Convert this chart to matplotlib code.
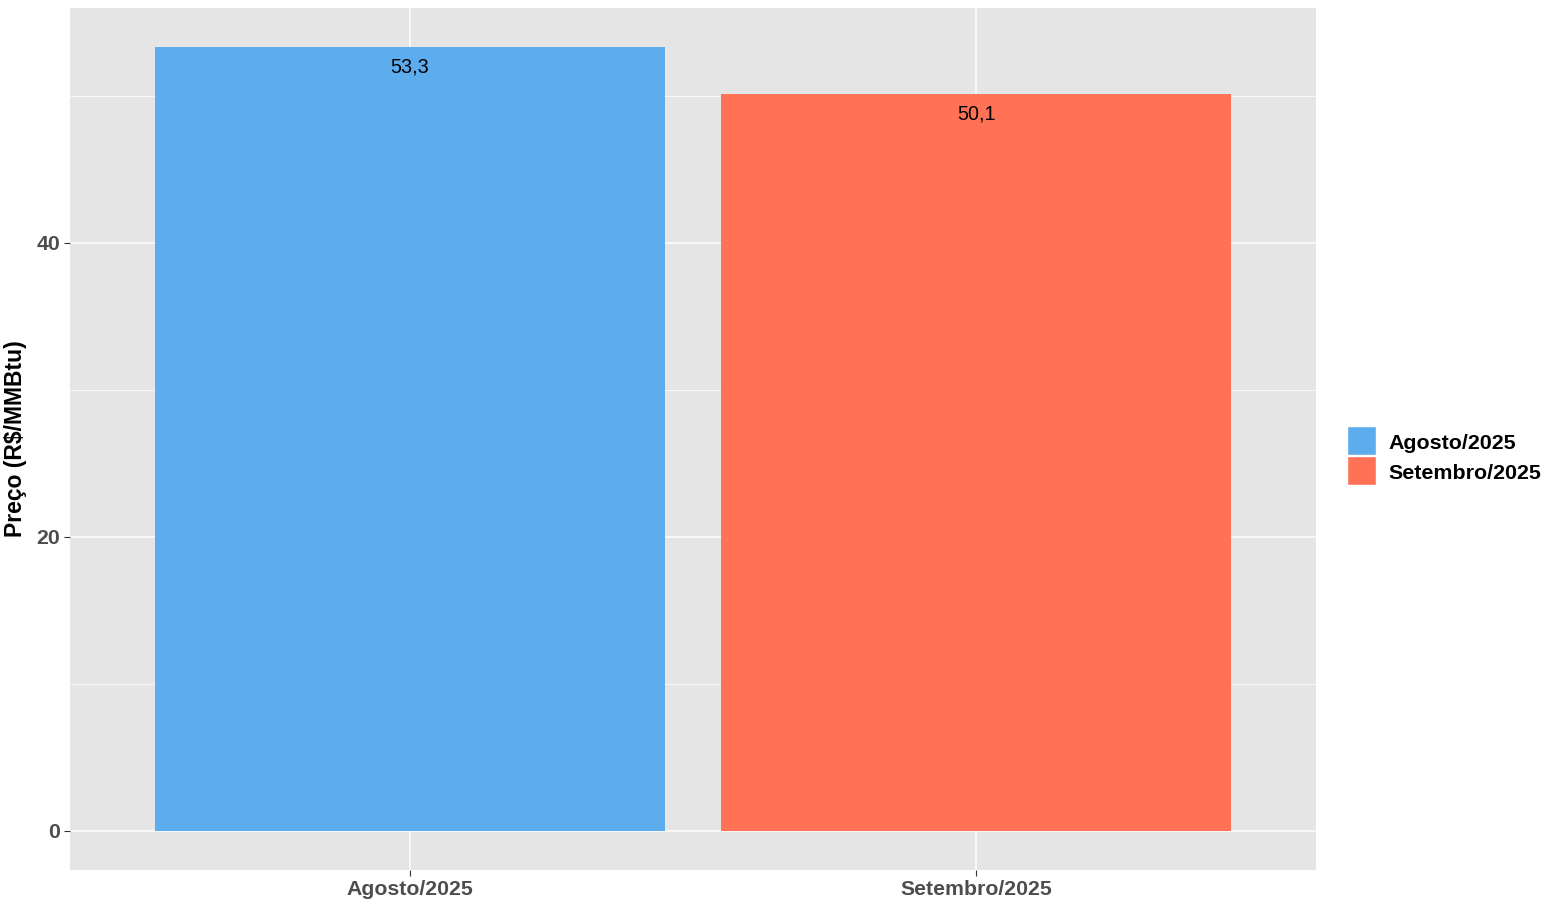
import matplotlib
matplotlib.use("Agg")
import matplotlib.pyplot as plt
from matplotlib.patches import Rectangle

categories = ["Agosto/2025", "Setembro/2025"]
values = [53.3, 50.1]
labels = ["53,3", "50,1"]
colors = ["#5CACEE", "#FF7256"]
y_ticks = [0, 20, 40]
y_minor = [10, 30, 50]

plt.rcParams["font.family"] = ["Liberation Sans", "DejaVu Sans"]

W, H = 1560, 910
fig = plt.figure(figsize=(W / 100, H / 100), dpi=100)
ax = fig.add_axes([70 / W, 1 - 870 / H, (1316 - 70) / W, (870 - 8) / H])
ax.set_facecolor("#E5E5E5")

x = list(range(1, len(categories) + 1))
ax.bar(x, values, width=0.9, color=colors, zorder=2)
for xi, v, lab in zip(x, values, labels):
    ax.annotate(lab, (xi, v), xytext=(0, -7.5), textcoords="offset points",
                ha="center", va="top", fontsize=14.2, color="black", zorder=3)

top = max(values)
ax.set_xlim(0.4, len(categories) + 0.6)
ax.set_ylim(-0.05 * top, top * 1.05)

ax.set_xticks(x)
ax.set_xticklabels(categories)
ax.set_yticks(y_ticks)
ax.set_yticks(y_minor, minor=True)
ax.grid(which="major", color="white", linewidth=1.1, zorder=0)
ax.grid(which="minor", axis="y", color="white", linewidth=0.55, zorder=0)
ax.set_axisbelow(True)
for s in ax.spines.values():
    s.set_visible(False)
ax.tick_params(axis="both", which="major", length=4, width=0.8, color="#333333",
               labelsize=15.3, labelcolor="#4D4D4D", pad=3)
ax.tick_params(axis="y", which="minor", length=0)
for t in ax.get_xticklabels() + ax.get_yticklabels():
    t.set_fontweight("bold")

ax.set_ylabel("Preço (R$/MMBtu)", fontsize=16.5, fontweight="bold", color="black", labelpad=7)

# legend drawn by hand, ggplot style keys
key = 29
for i, (cat, c) in enumerate(zip(categories, colors)):
    y0 = 426 + i * (key + 1)
    fig.add_artist(Rectangle((1347 / W, 1 - (y0 + key) / H), key / W, key / H,
                             transform=fig.transFigure, facecolor=c,
                             edgecolor="white", linewidth=1))
    fig.text(1388 / W, 1 - (y0 + key / 2 + 3) / H, cat, fontsize=15.4,
             fontweight="bold", color="black", va="center", ha="left")

fig.savefig("out.png", dpi=100)
